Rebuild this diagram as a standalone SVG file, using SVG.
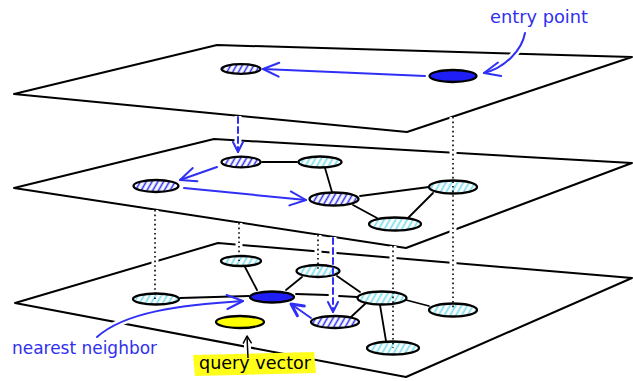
<svg xmlns="http://www.w3.org/2000/svg" width="633" height="381" viewBox="0 0 633 381">
<defs>
<style>
.plane{fill:#fff;stroke:#000;stroke-width:2;stroke-linejoin:round}
.node{stroke:#000;stroke-width:2.3}
.edge{stroke:#000;stroke-width:1.8;fill:none;stroke-linecap:round}
.dot{stroke:#000;stroke-width:1.6;stroke-dasharray:1.6 3;fill:none}
.halo{stroke:#fff;stroke-width:7;fill:none}
.blue{stroke:#2f2ff5;stroke-width:2;fill:none;stroke-linecap:round}
.dash{stroke-dasharray:6 4}
.lbl{font-family:"DejaVu Sans","Liberation Sans",sans-serif;font-size:17px}
</style>
<pattern id="hb" patternUnits="userSpaceOnUse" width="5" height="5" patternTransform="rotate(30)">
<rect width="5" height="5" fill="#fff"/>
<line x1="2.5" y1="0" x2="2.5" y2="5" stroke="#2f2ff0" stroke-width="1.6"/>
</pattern>
<pattern id="hc" patternUnits="userSpaceOnUse" width="5" height="5" patternTransform="rotate(30)">
<rect width="5" height="5" fill="#fff"/>
<line x1="2.5" y1="0" x2="2.5" y2="5" stroke="#6fdceb" stroke-width="1.6"/>
</pattern>
<marker id="ab" markerUnits="userSpaceOnUse" viewBox="-18 -9 20 18" refX="0" refY="0" markerWidth="20" markerHeight="18" orient="auto" overflow="visible">
<path d="M-16 -7 L0 0 L-16 7" fill="none" stroke="#2f2ff5" stroke-width="2" stroke-linecap="round" stroke-linejoin="round" stroke-dasharray="none"/>
</marker>
<marker id="abs" markerUnits="userSpaceOnUse" viewBox="-12 -6 14 12" refX="0" refY="0" markerWidth="14" markerHeight="12" orient="auto" overflow="visible">
<path d="M-10 -5 L0 0 L-10 5" fill="none" stroke="#2f2ff5" stroke-width="2" stroke-linecap="round" stroke-linejoin="round" stroke-dasharray="none"/>
</marker>
<marker id="abt" markerUnits="userSpaceOnUse" viewBox="-14 -7 16 14" refX="0" refY="0" markerWidth="16" markerHeight="14" orient="auto" overflow="visible">
<path d="M-12 -6 L0 0 L-12 6" fill="none" stroke="#2f2ff5" stroke-width="3" stroke-linecap="round" stroke-linejoin="round"/>
</marker>
<marker id="ak" markerUnits="userSpaceOnUse" viewBox="-8 -5 10 10" refX="0" refY="0" markerWidth="10" markerHeight="10" orient="auto" overflow="visible">
<path d="M-7 -4 L0 0 L-7 4" fill="none" stroke="#000" stroke-width="1.5" stroke-linecap="round" stroke-linejoin="round"/>
</marker>
</defs>

<g id="planes">
<polygon class="plane" points="14,94 217,45 632,57 407,132"/>
<polygon class="plane" points="14,188 214,139 632,163 406,248"/>
<polygon class="plane" points="15,303 218,243 632,278 406,377"/>
</g>

<g id="halos">
<path class="halo" d="M525 33 C522 50 505 68 484 73"/>
<path class="halo" d="M453 117 V310"/>
<path class="halo" d="M238 116 V152"/>
<path class="halo" d="M155 210 V299"/>
<path class="halo" d="M239 223 V261"/>
<path class="halo" d="M318 235 V271"/>
<path class="halo" d="M333 237 V312"/>
<path class="halo" d="M393 246 V348"/>
<path class="halo" d="M97 337 C125 312 180 305 243 301"/>
<path class="halo" d="M248 358 L247 336"/>
</g>

<g id="yellow-mark">
<path d="M193 355 L314 352 L316 373 L195 376 Z" fill="#ffff1a"/>
</g>

<g id="nodes">
<g id="top-visited"><ellipse class="node" cx="241" cy="69" rx="19.5" ry="4.8" fill="url(#hb)"/></g>
<g id="entry-node"><ellipse class="node" cx="453" cy="76" rx="23.5" ry="6" fill="#1f1ff5"/></g>
<g id="mid-a"><ellipse class="node" cx="241" cy="162" rx="19.5" ry="5.3" fill="url(#hb)"/></g>
<g id="mid-b"><ellipse class="node" cx="320" cy="162" rx="21.5" ry="5.5" fill="url(#hc)"/></g>
<g id="mid-c"><ellipse class="node" cx="334" cy="199" rx="24.5" ry="6.5" fill="url(#hb)"/></g>
<g id="mid-d"><ellipse class="node" cx="395" cy="224" rx="26" ry="6.5" fill="url(#hc)"/></g>
<g id="mid-e"><ellipse class="node" cx="453" cy="187" rx="24" ry="6.5" fill="url(#hc)"/></g>
<g id="mid-f"><ellipse class="node" cx="156" cy="186" rx="22.5" ry="6" fill="url(#hb)"/></g>
<g id="bot-g"><ellipse class="node" cx="241" cy="261" rx="20" ry="5" fill="url(#hc)"/></g>
<g id="bot-h"><ellipse class="node" cx="318" cy="271" rx="21.5" ry="6" fill="url(#hc)"/></g>
<g id="nearest-node"><ellipse class="node" cx="272" cy="297" rx="22" ry="5.5" fill="#1f1ff5"/></g>
<g id="query-node"><ellipse class="node" cx="240" cy="322" rx="24" ry="6" fill="#ffff00"/></g>
<g id="bot-i"><ellipse class="node" cx="335" cy="322" rx="24" ry="6" fill="url(#hb)"/></g>
<g id="bot-k"><ellipse class="node" cx="382" cy="298" rx="24.5" ry="6.5" fill="url(#hc)"/></g>
<g id="bot-j"><ellipse class="node" cx="393" cy="348" rx="26" ry="6.5" fill="url(#hc)"/></g>
<g id="bot-l"><ellipse class="node" cx="453" cy="310" rx="24" ry="6.5" fill="url(#hc)"/></g>
<g id="bot-m"><ellipse class="node" cx="156" cy="299" rx="23" ry="5.5" fill="url(#hc)"/></g>
</g>

<g id="connectors">
<path class="edge" d="M262 162 L297 162"/>
<path class="edge" d="M325 168 L332 192"/>
<path class="edge" d="M360 196 L429 187"/>
<path class="edge" d="M353 205 L377 218"/>
<path class="edge" d="M433 193 L408 218"/>
<path class="edge" d="M180 298 L249 296"/>
<path class="edge" d="M245 267 L257 290"/>
<path class="edge" d="M286 290 L302 277"/>
<path class="edge" d="M296 294 L328 295"/>
<path class="edge" d="M339 296 L357 297"/>
<path class="edge" d="M337 276 L360 292"/>
<path class="edge" d="M366 303 L351 317"/>
<path class="edge" d="M380 305 L386 341"/>
<path class="edge" d="M406 300 L429 306"/>
<path class="dot" d="M453 117 V310"/>
<path class="dot" d="M155 210 V299"/>
<path class="dot" d="M239 223 V261"/>
<path class="dot" d="M318 235 V271"/>
<path class="dot" d="M393 246 V348"/>
<path class="blue" d="M425 76 L263 69" marker-end="url(#ab)"/>
<path class="blue dash" d="M238 117 V152" marker-end="url(#abs)"/>
<path class="blue" d="M217 167 L180 180" marker-end="url(#ab)"/>
<path class="blue" d="M184 188 L306 200" marker-end="url(#ab)"/>
<path class="blue dash" d="M333 238 V312" marker-end="url(#abs)"/>
<path class="blue" d="M311 318 L291 304" stroke-width="3" marker-end="url(#abt)"/>
<path class="blue" d="M525 33 C522 50 505 68 484 73" marker-end="url(#ab)"/>
<path class="blue" d="M97 337 C125 312 180 305 243 301" marker-end="url(#ab)"/>
<path d="M248 358 L247 336" stroke="#000" stroke-width="1.5" fill="none" marker-end="url(#ak)"/>
</g>

<g id="labels">
<text class="lbl" x="490" y="23" fill="#3030ee" textLength="98" lengthAdjust="spacingAndGlyphs">entry point</text>
<text class="lbl" x="12" y="354" fill="#3030ee" font-size="18" textLength="145" lengthAdjust="spacingAndGlyphs">nearest neighbor</text>
<text class="lbl" x="199" y="369" fill="#000" font-size="17" textLength="112" lengthAdjust="spacingAndGlyphs">query vector</text>
</g>
</svg>
